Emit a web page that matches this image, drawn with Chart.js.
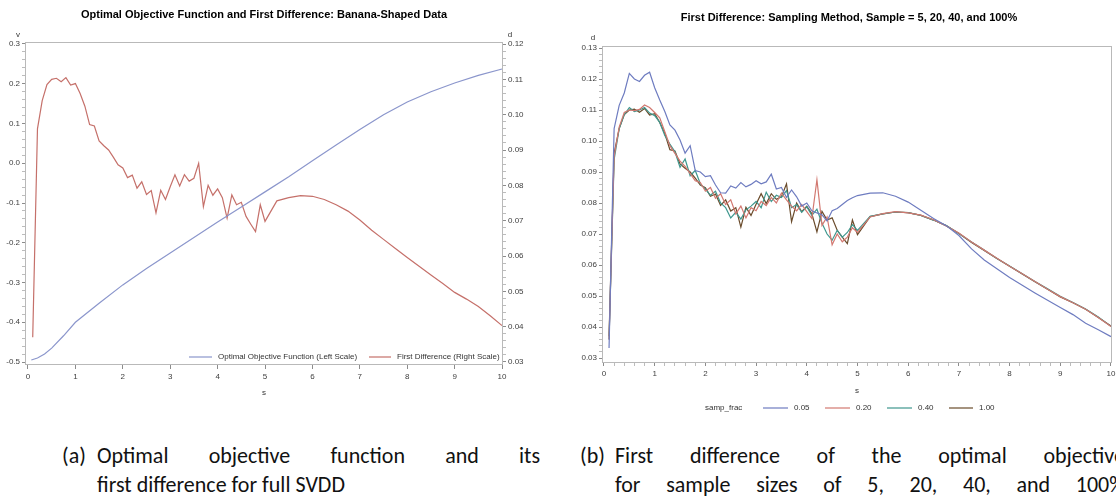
<!DOCTYPE html>
<html>
<head>
<meta charset="utf-8">
<script src="https://cdn.jsdelivr.net/npm/chart.js@4.4.1/dist/chart.umd.min.js"></script>
<style>
  html, body { margin: 0; padding: 0; background: #fff; }
  body { position: relative; width: 1116px; height: 497px; overflow: hidden; }
  canvas { position: absolute; top: 0; }
  #left { left: 0; }
  #right { left: 556px; }
  .cap { position: absolute; font-family: Carlito, Calibri, 'Liberation Sans Narrow', 'Open Sans', sans-serif;
         font-size: 22px; line-height: 29px; color: #111; white-space: nowrap; }
  .cap .lbl { position: absolute; left: 0; top: 0; }
  .cap .txt { position: absolute; left: 35px; top: 0; }
  .just { text-align: justify; text-align-last: justify; }
</style>
</head>
<body>
<canvas id="left" width="556" height="420"></canvas>
<canvas id="right" width="600" height="420"></canvas>

<div class="cap" style="left:62px; top:441px; width:478px;">
  <span class="lbl">(a)</span>
  <div class="txt" style="width:443px;">
    <div class="just">Optimal objective function and its</div>
    <div>first difference for full SVDD</div>
  </div>
</div>
<div class="cap" style="left:580px; top:441px; width:600px;">
  <span class="lbl">(b)</span>
  <div class="txt" style="width:510px;">
    <div class="just">First difference of the optimal objective</div>
    <div class="just">for sample sizes of 5, 20, 40, and 100%</div>
  </div>
</div>

<script>
// s grid shared by the first-difference series
const sGrid = [0.1, 0.2, 0.3, 0.4, 0.5, 0.6, 0.7, 0.8, 0.9, 1.0,
               1.1, 1.2, 1.3, 1.4, 1.5, 1.6, 1.7, 1.8, 1.9, 2.0,
               2.1, 2.2, 2.3, 2.4, 2.5, 2.6, 2.7, 2.8, 2.9, 3.0,
               3.1, 3.2, 3.3, 3.4, 3.5, 3.6, 3.7, 3.8, 3.9, 4.0,
               4.1, 4.2, 4.3, 4.4, 4.5, 4.6, 4.7, 4.8, 4.9, 5.0,
               5.25, 5.5, 5.75, 6.0, 6.25, 6.5, 6.75, 7.0, 7.25, 7.5,
               7.75, 8.0, 8.25, 8.5, 8.75, 9.0, 9.25, 9.5, 9.75, 10.0];

// full SVDD first difference (also samp_frac = 1.00)
const dFull = [0.0370, 0.0960, 0.1040, 0.1085, 0.1100, 0.1103, 0.1093, 0.1105, 0.1084, 0.1088,
               0.1060, 0.1024, 0.0972, 0.0968, 0.0926, 0.0912, 0.0900, 0.0880, 0.0858, 0.0849,
               0.0822, 0.0829, 0.0792, 0.0810, 0.0774, 0.0785, 0.0722, 0.0786, 0.0760, 0.0796,
               0.0830, 0.0798, 0.0830, 0.0812, 0.0820, 0.0862, 0.0740, 0.0800, 0.0772, 0.0790,
               0.0765, 0.0707, 0.0773, 0.0745, 0.0752, 0.0712, 0.0690, 0.0669, 0.0745, 0.0698,
               0.0756, 0.0765, 0.0771, 0.0769, 0.0760, 0.0745, 0.0727, 0.0702, 0.0673, 0.0647,
               0.0621, 0.0596, 0.0571, 0.0546, 0.0522, 0.0497, 0.0478, 0.0457, 0.0431, 0.0403];

// samp_frac = 0.05
const d05 = [0.0332, 0.1040, 0.1115, 0.1155, 0.1218, 0.1200, 0.1192, 0.1212, 0.1222, 0.1172,
             0.1132, 0.1095, 0.1052, 0.1035, 0.1003, 0.0961, 0.0985, 0.0905, 0.0900, 0.0885,
             0.0888, 0.0858, 0.0833, 0.0832, 0.0855, 0.0848, 0.0866, 0.0852, 0.0860, 0.0872,
             0.0862, 0.0868, 0.0893, 0.0845, 0.0850, 0.0818, 0.0842, 0.0820, 0.0790, 0.0800,
             0.0775, 0.0768, 0.0762, 0.0742, 0.0775, 0.0782, 0.0795, 0.0808, 0.0817, 0.0824,
             0.0832, 0.0833, 0.0822, 0.0803, 0.0777, 0.0750, 0.0727, 0.0695, 0.0652, 0.0616,
             0.0588, 0.0560, 0.0535, 0.0510, 0.0486, 0.0463, 0.0440, 0.0412, 0.0391, 0.0369];

// samp_frac = 0.20
const d20 = [0.0360, 0.0950, 0.1045, 0.1092, 0.1100, 0.1098, 0.1102, 0.1116, 0.1108, 0.1092,
             0.1075, 0.1030, 0.0985, 0.0960, 0.0935, 0.0918, 0.0895, 0.0872, 0.0866, 0.0838,
             0.0850, 0.0815, 0.0830, 0.0795, 0.0810, 0.0765, 0.0790, 0.0752, 0.0785, 0.0775,
             0.0805, 0.0792, 0.0818, 0.0800, 0.0832, 0.0810, 0.0790, 0.0775, 0.0795, 0.0772,
             0.0750, 0.0875, 0.0728, 0.0755, 0.0665, 0.0700, 0.0675, 0.0690, 0.0720, 0.0705,
             0.0755, 0.0766, 0.0772, 0.0768, 0.0761, 0.0746, 0.0726, 0.0703, 0.0674, 0.0648,
             0.0622, 0.0596, 0.0572, 0.0547, 0.0522, 0.0498, 0.0478, 0.0457, 0.0431, 0.0402];

// samp_frac = 0.40
const d40 = [0.0360, 0.0940, 0.1040, 0.1085, 0.1108, 0.1095, 0.1100, 0.1108, 0.1090, 0.1082,
             0.1060, 0.1018, 0.0990, 0.0965, 0.0915, 0.0942, 0.0888, 0.0905, 0.0862, 0.0845,
             0.0825, 0.0838, 0.0800, 0.0785, 0.0752, 0.0770, 0.0748, 0.0778, 0.0790, 0.0805,
             0.0785, 0.0835, 0.0805, 0.0825, 0.0818, 0.0840, 0.0785, 0.0795, 0.0770, 0.0788,
             0.0760, 0.0780, 0.0735, 0.0700, 0.0680, 0.0712, 0.0690, 0.0705, 0.0730, 0.0712,
             0.0757, 0.0765, 0.0771, 0.0769, 0.0760, 0.0745, 0.0727, 0.0702, 0.0674, 0.0648,
             0.0621, 0.0597, 0.0572, 0.0547, 0.0523, 0.0499, 0.0479, 0.0458, 0.0432, 0.0402];

// optimal objective function v (left scale)
const sV = [0.07, 0.2, 0.35, 0.5, 0.75, 1.0, 1.5, 2.0, 2.5, 3.0, 3.5, 4.0,
            4.5, 5.0, 5.5, 6.0, 6.5, 7.0, 7.5, 8.0, 8.5, 9.0, 9.5, 10.0];
const vOpt = [-0.495, -0.490, -0.480, -0.465, -0.434, -0.400, -0.352, -0.306, -0.265, -0.226, -0.187, -0.148,
              -0.110, -0.072, -0.034, 0.006, 0.046, 0.085, 0.122, 0.154, 0.180, 0.202, 0.221, 0.237];

const fracLabels = ['0.05', '0.20', '0.40', '1.00'];

const FONT = "'Liberation Sans', Arial, sans-serif";
Chart.defaults.font.family = FONT;

const pts = (xs, ys) => xs.map((x, i) => ({ x: x, y: ys[i] }));
const isMajor = (v, step) => Math.abs(v / step - Math.round(v / step)) < 1e-6;

function axisTicks(major, minor, digits) {
    return {
        stepSize: minor,
        autoSkip: false,
        includeBounds: false,
        maxRotation: 0,
        minRotation: 0,
        color: '#404040',
        font: { size: 8 },
        callback: v => {
            if (!isMajor(v, major)) return '';
            const r = Math.round(v / major) * major;
            return (Math.abs(r) < 1e-9 ? 0 : r).toFixed(digits);
        }
    };
}

function tickGrid(major) {
    return {
        drawOnChartArea: false,
        tickLength: 3,
        color: c => (c.tick && isMajor(c.tick.value, major)) ? '#8c8c8c' : '#bcbcbc'
    };
}

// frame, title, axis letters and the in-plot legends
const sasDecor = {
    id: 'sasDecor',
    afterDraw(chart, args, o) {
        const { ctx, chartArea: a } = chart;
        ctx.save();
        ctx.strokeStyle = '#b9b9b9';
        ctx.lineWidth = 1;
        ctx.strokeRect(Math.round(a.left) + 0.5, Math.round(a.top) + 0.5,
                       Math.round(a.right - a.left) - 1, Math.round(a.bottom - a.top) - 1);

        ctx.textBaseline = 'middle';
        ctx.textAlign = 'center';
        ctx.fillStyle = '#000';
        ctx.font = 'bold 11px ' + FONT;
        ctx.fillText(o.title, o.titleX, o.titleY);

        ctx.font = '8px ' + FONT;
        ctx.fillStyle = '#333';
        o.letters.forEach(l => ctx.fillText(l.text, l.x, l.y));

        ctx.textAlign = 'left';
        if (o.legendTitle) ctx.fillText(o.legendTitle.text, o.legendTitle.x, o.legendTitle.y);
        o.legend.forEach(it => {
            const ds = chart.data.datasets[it.ds];
            ctx.strokeStyle = ds.borderColor;
            ctx.lineWidth = 1.2;
            ctx.beginPath();
            ctx.moveTo(it.x0, it.y);
            ctx.lineTo(it.x1, it.y);
            ctx.stroke();
            ctx.fillStyle = '#333';
            ctx.fillText(ds.label, it.x1 + 6, it.y);
        });
        ctx.restore();
    }
};

const lineStyle = { pointRadius: 0, borderWidth: 1.2, tension: 0, fill: false };

new Chart(document.getElementById('left'), {
    type: 'line',
    data: {
        datasets: [
            { ...lineStyle, label: 'Optimal Objective Function (Left Scale)', data: pts(sV, vOpt),
              yAxisID: 'y', borderColor: '#8b96cc' },
            { ...lineStyle, label: 'First Difference (Right Scale)', data: pts(sGrid, dFull),
              yAxisID: 'y1', borderColor: '#c5706a' }
        ]
    },
    options: {
        responsive: false,
        animation: false,
        layout: { padding: { top: 42, left: 0, right: 0, bottom: 0 } },
        plugins: {
            legend: { display: false },
            tooltip: { enabled: false },
            sasDecor: {
                title: 'Optimal Objective Function and First Difference: Banana-Shaped Data',
                titleX: 264, titleY: 15,
                letters: [{ text: 'v', x: 18, y: 35 }, { text: 'd', x: 510, y: 35 }, { text: 's', x: 264, y: 393 }],
                legend: [{ ds: 0, x0: 189, x1: 212, y: 357 }, { ds: 1, x0: 369, x1: 391, y: 357 }]
            }
        },
        scales: {
            x: {
                type: 'linear', min: -0.063, max: 10.02,
                afterFit: s => { s.height = 55; },
                border: { display: false },
                grid: { drawOnChartArea: false, tickLength: 4, color: '#8c8c8c' },
                ticks: { stepSize: 1, autoSkip: false, includeBounds: false, padding: 3, maxRotation: 0,
                         color: '#404040', font: { size: 8 }, callback: v => String(Math.round(v)) }
            },
            y: {
                position: 'left', min: -0.5075, max: 0.305,
                afterFit: s => { s.width = 25; },
                border: { display: false },
                grid: tickGrid(0.1),
                ticks: { ...axisTicks(0.1, 0.02, 1), padding: 2 }
            },
            y1: {
                position: 'right', min: 0.02915, max: 0.12057,
                afterFit: s => { s.width = 53; },
                border: { display: false },
                grid: tickGrid(0.01),
                ticks: { ...axisTicks(0.01, 0.002, 2), padding: 2 }
            }
        }
    },
    plugins: [sasDecor]
});

const fracColors = ['#6e7cc0', '#d27870', '#3f978e', '#6a4b2b'];
const fracData = [d05, d20, d40, dFull];

new Chart(document.getElementById('right'), {
    type: 'line',
    data: {
        datasets: fracLabels.map((lab, i) => ({
            ...lineStyle, label: lab, data: pts(sGrid, fracData[i]), borderColor: fracColors[i]
        }))
    },
    options: {
        responsive: false,
        animation: false,
        layout: { padding: { top: 46, left: 0, right: 44, bottom: 0 } },
        plugins: {
            legend: { display: false },
            tooltip: { enabled: false },
            sasDecor: {
                title: 'First Difference: Sampling Method, Sample = 5, 20, 40, and 100%',
                titleX: 293, titleY: 18,
                letters: [{ text: 'd', x: 37, y: 38 }, { text: 's', x: 301, y: 391 }],
                legendTitle: { text: 'samp_frac', x: 149, y: 408 },
                legend: [{ ds: 0, x0: 207, x1: 232, y: 408 }, { ds: 1, x0: 269, x1: 294, y: 408 },
                         { ds: 2, x0: 331, x1: 356, y: 408 }, { ds: 3, x0: 393, x1: 417, y: 408 }]
            }
        },
        scales: {
            x: {
                type: 'linear', min: -0.039, max: 10.02,
                afterFit: s => { s.height = 57; },
                border: { display: false },
                grid: tickGrid(1),
                ticks: { ...axisTicks(1, 0.2, 0), padding: 3 }
            },
            y: {
                position: 'left', min: 0.02839, max: 0.13065,
                afterFit: s => { s.width = 46; },
                border: { display: false },
                grid: tickGrid(0.01),
                ticks: { ...axisTicks(0.01, 0.002, 2), padding: 2 }
            }
        }
    },
    plugins: [sasDecor]
});
</script>
</body>
</html>
